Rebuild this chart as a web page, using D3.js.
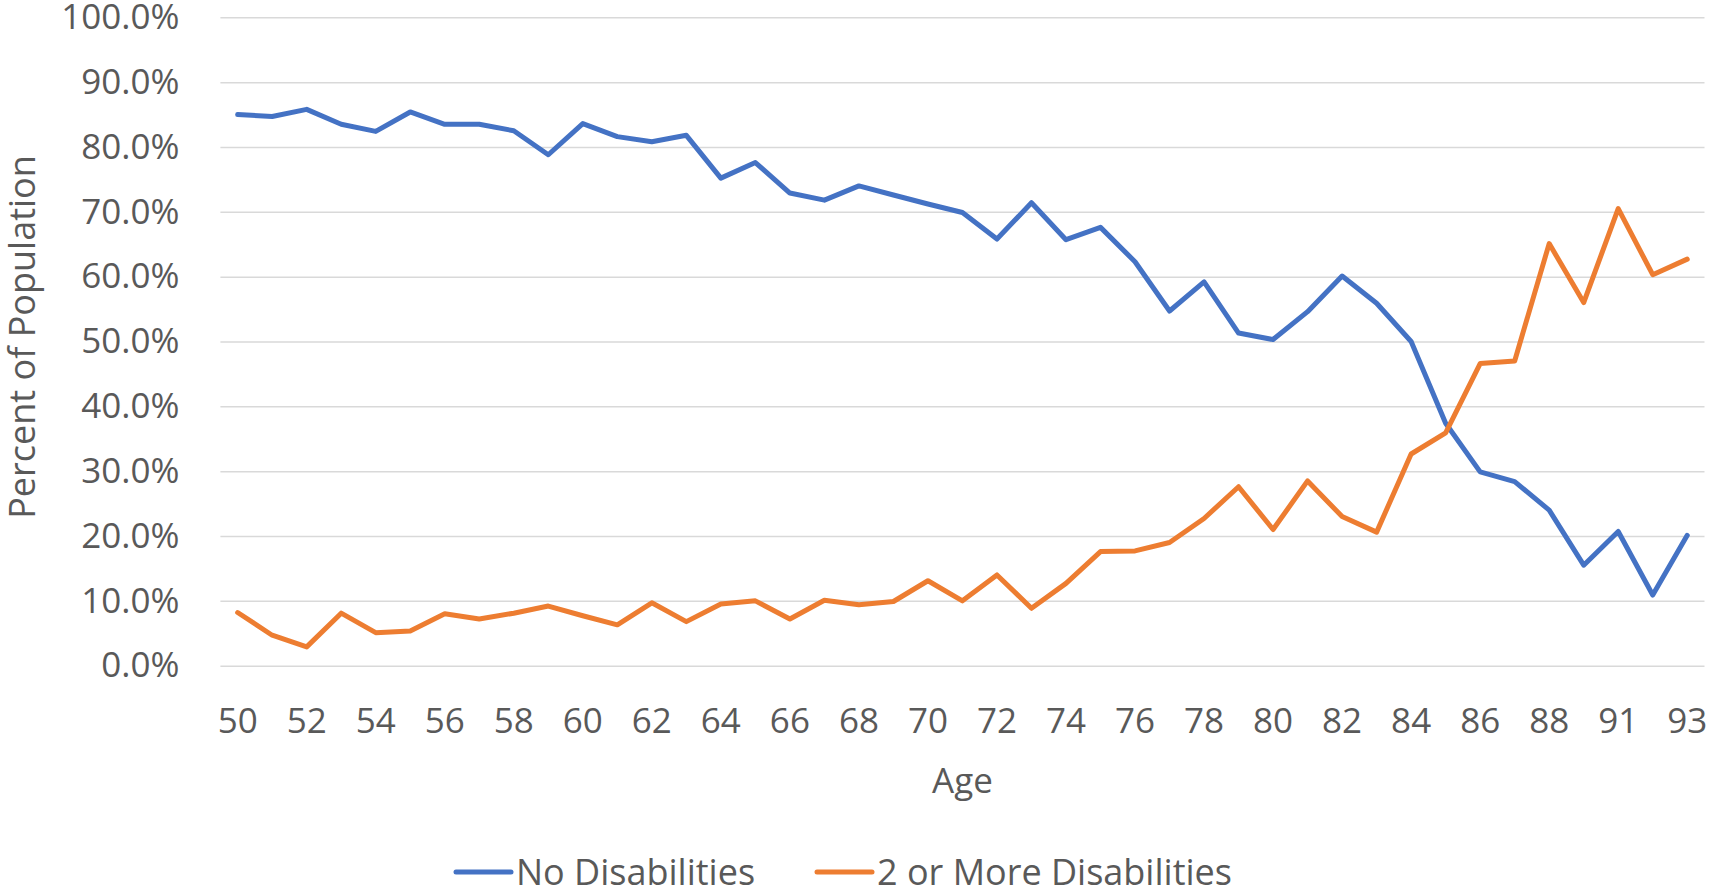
<!DOCTYPE html>
<html>
<head>
<meta charset="utf-8">
<script src="https://cdn.jsdelivr.net/npm/d3@7"></script>
<style>
  body { margin: 0; background: #fff; }
  svg { display: block; font-family: 'Open Sans', sans-serif; }
  .axis text { fill: #595959; font-size: 35px; font-family: 'Open Sans', sans-serif; }
  .axis.y line { stroke: #d9d9d9; stroke-width: 1.5px; }
</style>
</head>
<body>
<script>
const ages = [50, 51, 52, 53, 54, 55, 56, 57, 58, 59, 60, 61, 62, 63, 64, 65, 66, 67, 68, 69,
  70, 71, 72, 73, 74, 75, 76, 77, 78, 79, 80, 81, 82, 83, 84, 85, 86, 87, 88, 89, 91, 92, 93]

const noDisabilities = [85.0, 84.7, 85.8, 83.5, 82.4, 85.4, 83.5, 83.5, 82.5, 78.8,
  83.6, 81.6, 80.8, 81.8, 75.2, 77.6, 72.9, 71.8, 74.0, 72.6,
  71.2, 69.9, 65.8, 71.4, 65.7, 67.6, 62.3, 54.7, 59.2, 51.3,
  50.3, 54.6, 60.1, 55.9, 50.0, 37.4, 29.9, 28.4, 24.0, 15.5,
  20.7, 10.9, 20.1]

const twoOrMore = [8.2, 4.7, 2.9, 8.1, 5.1, 5.35, 8.0, 7.2, 8.1, 9.2,
  7.7, 6.3, 9.7, 6.8, 9.5, 10.0, 7.2, 10.1, 9.4, 9.9,
  13.1, 10.0, 14.0, 8.85, 12.7, 17.6, 17.7, 19.0, 22.7, 27.6,
  21.0, 28.5, 23.0, 20.6, 32.65, 35.9, 46.6, 47.0, 65.1, 56.0,
  70.5, 60.3, 62.7]

const seriesNames = ['No Disabilities', '2 or More Disabilities']
const colors = ['#4472c4', '#ed7d31']
const yTicks = [0, 10, 20, 30, 40, 50, 60, 70, 80, 90, 100]

const W = 1710, H = 889
const margin = {left: 220.4, right: 5.5, top: 17.3, bottom: 223.3}
const width = W - margin.left - margin.right
const height = H - margin.top - margin.bottom

const canvas = d3.select('body').append('svg').attr('width', W).attr('height', H)

const x = d3.scaleBand()
  .domain(ages)
  .range([0, width])

const y = d3.scaleLinear()
  .domain([0, 100])
  .range([height, 0])

const chartGroup = canvas.append('g')
  .attr('transform', `translate(${margin.left},${margin.top})`)

const yAxis = d3.axisLeft(y)
  .tickValues(yTicks)
  .tickSize(-width)
  .tickPadding(41)
  .tickFormat(d => d.toFixed(1) + '%')

chartGroup.append('g')
  .attr('class', 'axis y')
  .call(yAxis)
  .call(g => g.select('.domain').remove())

const xAxis = d3.axisBottom(x)
  .tickValues(ages.filter((a, i) => i % 2 === 0))
  .tickSize(0)
  .tickPadding(42)

chartGroup.append('g')
  .attr('class', 'axis x')
  .attr('transform', `translate(0, ${height})`)
  .call(xAxis)
  .call(g => g.select('.domain').remove())

const series = [noDisabilities, twoOrMore]
const line = d3.line()
  .x((d, i) => x(ages[i]) + x.bandwidth() / 2)
  .y(d => y(d))

chartGroup.selectAll('.series')
  .data(series)
  .enter().append('path')
  .attr('class', 'series')
  .attr('d', line)
  .attr('fill', 'none')
  .attr('stroke', (d, i) => colors[i])
  .attr('stroke-width', 5)
  .attr('stroke-linejoin', 'round')
  .attr('stroke-linecap', 'round')

// axis titles
canvas.append('text')
  .attr('x', margin.left + width / 2)
  .attr('y', 793)
  .attr('text-anchor', 'middle')
  .attr('fill', '#595959')
  .attr('font-size', 35)
  .text('Age')

canvas.append('text')
  .attr('transform', 'translate(35, 337) rotate(-90)')
  .attr('text-anchor', 'middle')
  .attr('fill', '#595959')
  .attr('font-size', 36)
  .text('Percent of Population')

// legend
const legendX = [456, 817]
const legend = canvas.selectAll('.legend')
  .data(seriesNames)
  .enter().append('g')
  .attr('class', 'legend')
  .attr('transform', (d, i) => `translate(${legendX[i]}, 872)`)

legend.append('line')
  .attr('x1', 0).attr('x2', 55)
  .attr('stroke', (d, i) => colors[i])
  .attr('stroke-width', 5)
  .attr('stroke-linecap', 'round')

legend.append('text')
  .attr('x', 60)
  .attr('y', 12.5)
  .attr('fill', '#595959')
  .attr('font-size', 36)
  .text(d => d)
</script>
</body>
</html>
